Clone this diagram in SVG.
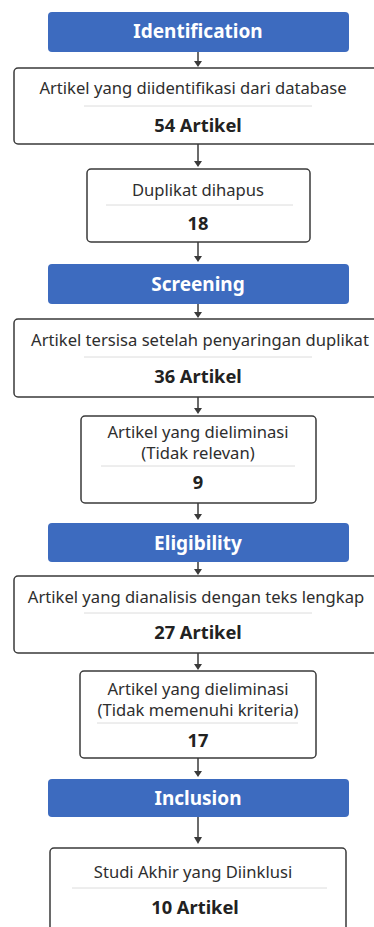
<svg xmlns="http://www.w3.org/2000/svg" width="374" height="927" viewBox="0 0 374 927">
<defs>
<style>
.hdr{fill:#3d6bbf;}
.hdt{font-family:"Noto Sans","Open Sans",sans-serif;font-weight:bold;font-size:19px;fill:#ffffff;text-anchor:middle;}
.box{fill:#ffffff;stroke:#3a3a3a;stroke-width:1.5;}
.t{font-family:"Noto Sans","Open Sans",sans-serif;font-size:16.6px;fill:#2e2e2e;text-anchor:middle;}
.n{font-family:"Noto Sans","Open Sans",sans-serif;font-weight:bold;font-size:18.3px;fill:#222;text-anchor:middle;}
.sep{stroke:#dcdcdc;stroke-width:1;}
.c{stroke:#3a3a3a;stroke-width:1.5;fill:none;}
.hd{fill:#3a3a3a;}
</style>
</defs>
<rect width="374" height="927" fill="#ffffff"/>
<g id="connectors">
<line class="c" x1="198" y1="52" x2="198" y2="62"/><path class="hd" d="M194,61 L202,61 L198,67 Z"/>
<line class="c" x1="198" y1="144" x2="198" y2="162"/><path class="hd" d="M194,161 L202,161 L198,167 Z"/>
<line class="c" x1="198" y1="242" x2="198" y2="257"/><path class="hd" d="M194,256 L202,256 L198,262 Z"/>
<line class="c" x1="198" y1="304" x2="198" y2="313"/><path class="hd" d="M194,312 L202,312 L198,318 Z"/>
<line class="c" x1="198" y1="397" x2="198" y2="409"/><path class="hd" d="M194,408 L202,408 L198,414 Z"/>
<line class="c" x1="198" y1="503" x2="198" y2="515"/><path class="hd" d="M194,514 L202,514 L198,520 Z"/>
<line class="c" x1="198" y1="562" x2="198" y2="570"/><path class="hd" d="M194,569 L202,569 L198,575 Z"/>
<line class="c" x1="198" y1="653" x2="198" y2="665"/><path class="hd" d="M194,664 L202,664 L198,670 Z"/>
<line class="c" x1="198" y1="758" x2="198" y2="772"/><path class="hd" d="M194,771 L202,771 L198,777 Z"/>
<line class="c" x1="198" y1="817" x2="198" y2="838"/><path class="hd" d="M194,837 L202,837 L198,844 Z"/>
</g>
<g id="identification">
<rect class="hdr" x="48" y="12" width="301" height="40" rx="4"/>
<text class="hdt" x="198" y="38">Identification</text>
</g>
<g id="box-identified">
<rect class="box" x="14" y="68" width="370" height="76" rx="4"/>
<text class="t" x="193" y="94">Artikel yang diidentifikasi dari database</text>
<line class="sep" x1="84" y1="106" x2="312" y2="106"/>
<text class="n" x="198" y="132">54 Artikel</text>
</g>
<g id="box-duplicates">
<rect class="box" x="87" y="169" width="223" height="73" rx="4"/>
<text class="t" x="198" y="196">Duplikat dihapus</text>
<line class="sep" x1="106" y1="205" x2="293" y2="205"/>
<text class="n" x="198" y="230">18</text>
</g>
<g id="screening">
<rect class="hdr" x="48" y="264" width="301" height="40" rx="4"/>
<text class="hdt" x="198" y="291">Screening</text>
</g>
<g id="box-remaining">
<rect class="box" x="14" y="319" width="370" height="78" rx="4"/>
<text class="t" x="200" y="346">Artikel tersisa setelah penyaringan duplikat</text>
<line class="sep" x1="84" y1="357" x2="312" y2="357"/>
<text class="n" x="198" y="383">36 Artikel</text>
</g>
<g id="box-irrelevant">
<rect class="box" x="81" y="416" width="235" height="87" rx="4"/>
<text class="t" x="198" y="438">Artikel yang dieliminasi</text>
<text class="t" x="198" y="459">(Tidak relevan)</text>
<line class="sep" x1="101" y1="466" x2="295" y2="466"/>
<text class="n" x="198" y="489">9</text>
</g>
<g id="eligibility">
<rect class="hdr" x="48" y="523" width="301" height="39" rx="4"/>
<text class="hdt" x="198" y="550">Eligibility</text>
</g>
<g id="box-fulltext">
<rect class="box" x="14" y="576" width="370" height="77" rx="4"/>
<text class="t" x="196" y="603">Artikel yang dianalisis dengan teks lengkap</text>
<line class="sep" x1="84" y1="613" x2="312" y2="613"/>
<text class="n" x="198" y="639">27 Artikel</text>
</g>
<g id="box-criteria">
<rect class="box" x="80" y="671" width="236" height="87" rx="4"/>
<text class="t" x="198" y="695">Artikel yang dieliminasi</text>
<text class="t" x="198" y="716">(Tidak memenuhi kriteria)</text>
<line class="sep" x1="97" y1="723" x2="298" y2="723"/>
<text class="n" x="198" y="747">17</text>
</g>
<g id="inclusion">
<rect class="hdr" x="48" y="779" width="301" height="38" rx="4"/>
<text class="hdt" x="198" y="805">Inclusion</text>
</g>
<g id="box-included">
<rect class="box" x="50" y="848" width="296" height="92" rx="4"/>
<text class="t" x="193" y="878">Studi Akhir yang Diinklusi</text>
<line class="sep" x1="72" y1="888" x2="327" y2="888"/>
<text class="n" x="195" y="914">10 Artikel</text>
</g>
</svg>
